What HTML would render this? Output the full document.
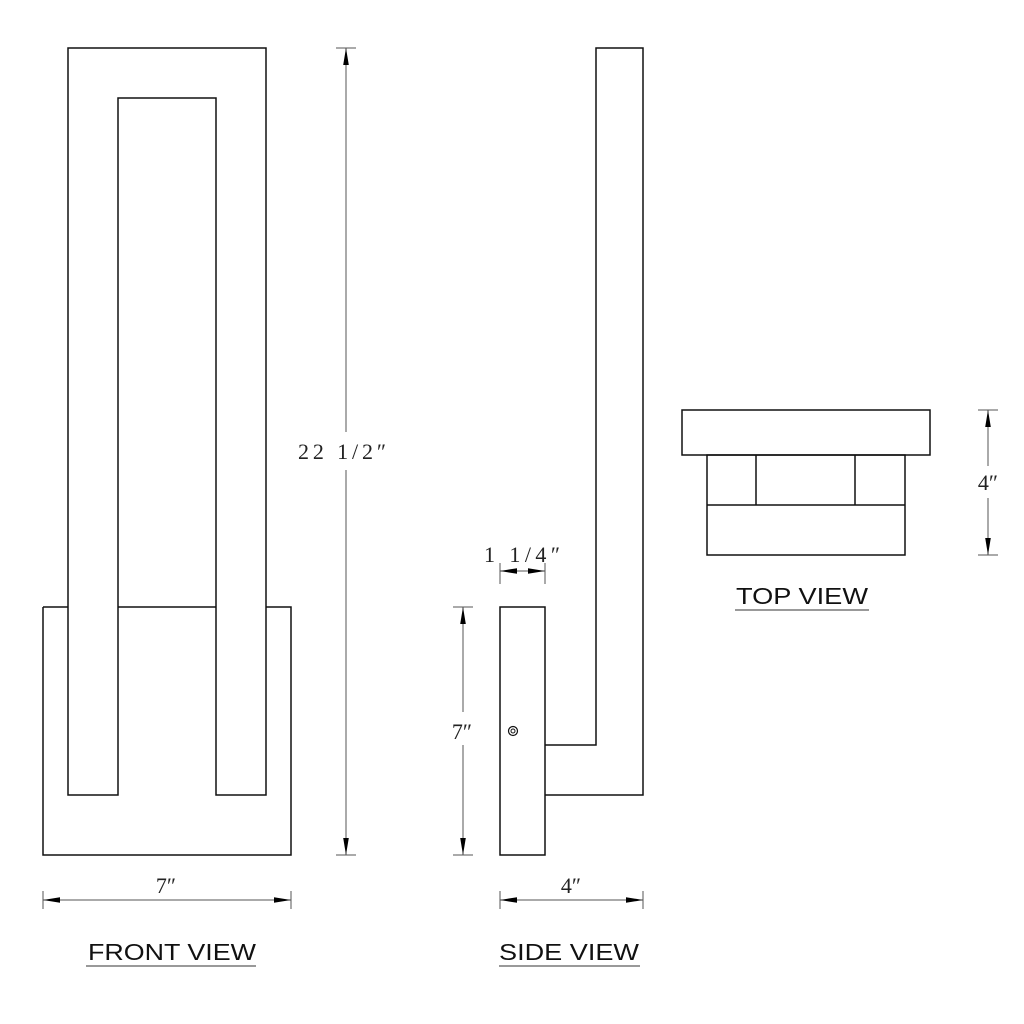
<!DOCTYPE html>
<html><head><style>html,body{margin:0;padding:0;background:#fff}svg{display:block}</style></head>
<body>
<svg width="1024" height="1024" viewBox="0 0 1024 1024" xmlns="http://www.w3.org/2000/svg">
<defs>
<marker id="a" viewBox="0 0 10 10" refX="10" refY="5" markerWidth="17" markerHeight="8" markerUnits="userSpaceOnUse" orient="auto-start-reverse" preserveAspectRatio="none"><path d="M0,1.5 L10,5 L0,8.5 Z" fill="#000"/></marker>
</defs>
<g fill="none" stroke="#111" stroke-width="1.5">
<path d="M68,795 L68,48 L266,48 L266,795 L216,795 L216,98 L118,98 L118,795 Z"/>
<path d="M43,607 L68,607 M118,607 L216,607 M266,607 L291,607 L291,855 L43,855 L43,607"/>
<rect x="500" y="607" width="45" height="248"/>
<path d="M545,745 L596,745 L596,48 L643,48 L643,795 L545,795"/>
<circle cx="513" cy="731" r="4.5" stroke-width="1.2"/>
<circle cx="513" cy="731" r="2" stroke-width="1"/>
<rect x="682" y="410" width="248" height="45"/>
<rect x="707" y="455" width="198" height="100"/>
<path d="M707,505 L905,505 M756,455 L756,505 M855,455 L855,505"/>
</g>
<g stroke="#555" stroke-width="1" fill="none">
<path d="M336,48 L356,48 M336,855 L356,855"/>
<line x1="346" y1="48" x2="346" y2="432" marker-start="url(#a)"/>
<line x1="346" y1="470" x2="346" y2="855" marker-end="url(#a)"/>
<path d="M43,891 L43,909 M291,891 L291,909"/>
<line x1="43" y1="900" x2="291" y2="900" marker-start="url(#a)" marker-end="url(#a)"/>
<path d="M500,891 L500,909 M643,891 L643,909"/>
<line x1="500" y1="900" x2="643" y2="900" marker-start="url(#a)" marker-end="url(#a)"/>
<path d="M453,607 L473,607 M453,855 L473,855"/>
<line x1="463" y1="607" x2="463" y2="712" marker-start="url(#a)"/>
<line x1="463" y1="745" x2="463" y2="855" marker-end="url(#a)"/>
<path d="M500,563 L500,584 M545,563 L545,584"/>
<line x1="500" y1="571" x2="522" y2="571" marker-start="url(#a)"/>
<line x1="522" y1="571" x2="545" y2="571" marker-end="url(#a)"/>
<path d="M978,410 L998,410 M978,555 L998,555"/>
<line x1="988" y1="410" x2="988" y2="466" marker-start="url(#a)"/>
<line x1="988" y1="498" x2="988" y2="555" marker-end="url(#a)"/>
</g>
<g font-family="Liberation Serif, serif" font-size="22" fill="#222" text-anchor="middle">
<text x="342" y="459" textLength="88" lengthAdjust="spacing">22 1/2″</text>
<text x="166" y="893">7″</text>
<text x="571" y="893">4″</text>
<text x="462" y="739">7″</text>
<text x="522" y="562" textLength="76" lengthAdjust="spacing">1 1/4″</text>
<text x="988" y="490">4″</text>
</g>
<g font-family="Liberation Sans, sans-serif" font-size="23" fill="#111" text-anchor="middle">
<text x="172" y="960" textLength="168" lengthAdjust="spacingAndGlyphs">FRONT  VIEW</text>
<text x="569" y="960" textLength="140" lengthAdjust="spacingAndGlyphs">SIDE  VIEW</text>
<text x="802" y="604" textLength="132" lengthAdjust="spacingAndGlyphs">TOP  VIEW</text>
</g>
<g stroke="#333" stroke-width="1">
<line x1="86" y1="966" x2="256" y2="966"/>
<line x1="499" y1="966" x2="640" y2="966"/>
<line x1="735" y1="610" x2="869" y2="610"/>
</g>
</svg>
</body></html>
